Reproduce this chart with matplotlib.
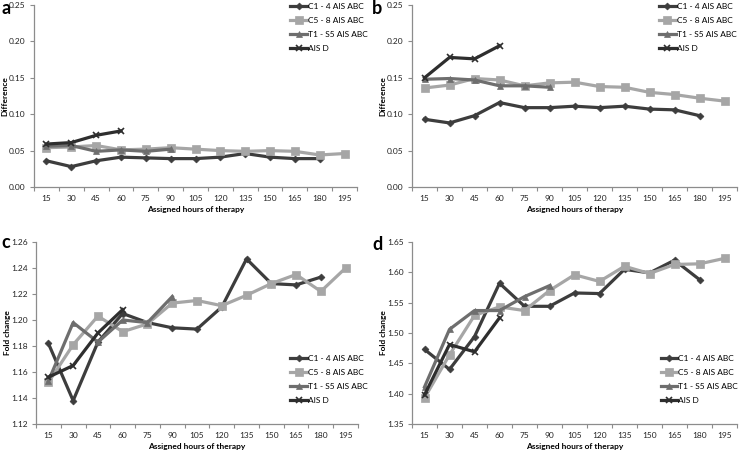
import matplotlib
matplotlib.use("Agg")
import matplotlib.pyplot as plt
import numpy as np

plt.rcParams['font.family'] = ['Lato', 'DejaVu Sans']

hours = ['15', '30', '45', '60', '75', '90', '105', '120', '135', '150', '165', '180', '195']
series_names = ['C1 - 4 AIS ABC', 'C5 - 8 AIS ABC', 'T1 - S5 AIS ABC', 'AIS D']

# Panel a: Difference
a_c1 = [0.036, 0.028, 0.036, 0.041, 0.040, 0.039, 0.039, 0.041, 0.046, 0.041, 0.039, 0.039]
a_c5 = [0.054, 0.055, 0.057, 0.051, 0.052, 0.054, 0.052, 0.050, 0.049, 0.050, 0.049, 0.044, 0.046]
a_t1 = [0.056, 0.057, 0.049, 0.051, 0.049, 0.052]
a_d = [0.059, 0.061, 0.071, 0.077]

# Panel b: Difference
b_c1 = [0.093, 0.088, 0.098, 0.116, 0.109, 0.109, 0.111, 0.109, 0.111, 0.107, 0.106, 0.098]
b_c5 = [0.136, 0.140, 0.149, 0.147, 0.139, 0.143, 0.144, 0.138, 0.137, 0.130, 0.127, 0.122, 0.118]
b_t1 = [0.148, 0.149, 0.147, 0.139, 0.139, 0.137]
b_d = [0.150, 0.178, 0.176, 0.194]

# Panel c: Fold change
c_c1 = [1.182, 1.138, 1.183, 1.205, 1.198, 1.194, 1.193, 1.210, 1.247, 1.228, 1.227, 1.233]
c_c5 = [1.152, 1.181, 1.203, 1.191, 1.197, 1.213, 1.215, 1.211, 1.219, 1.228, 1.235, 1.222, 1.240]
c_t1 = [1.153, 1.198, 1.183, 1.200, 1.198, 1.218]
c_d = [1.156, 1.165, 1.190, 1.208]

# Panel d: Fold change
d_c1 = [1.473, 1.440, 1.494, 1.582, 1.544, 1.544, 1.566, 1.565, 1.605, 1.599, 1.620, 1.588]
d_c5 = [1.393, 1.464, 1.529, 1.543, 1.537, 1.570, 1.596, 1.585, 1.610, 1.598, 1.613, 1.614, 1.623]
d_t1 = [1.411, 1.506, 1.537, 1.537, 1.560, 1.578]
d_d = [1.398, 1.481, 1.469, 1.525]

colors = ['#3d3d3d', '#a6a6a6', '#6e6e6e', '#2e2e2e']
markers = ['D', 's', '^', 'x']
msizes = [3.5, 5.5, 5, 5]

fig = plt.figure(figsize=(7.41, 4.53), dpi=100)

W, H = 741, 453
def rect(x0, x1, ytop, ybot):
    return [x0 / W, 1 - ybot / H, (x1 - x0) / W, (ybot - ytop) / H]

panels = [
    ('a', (1, 8), rect(34, 357, 5, 187), [a_c1, a_c5, a_t1, a_d], (0, 0.25), 0.05, 'Difference', (0.783, 1.03)),
    ('b', (372, 8), rect(412, 737, 5, 187), [b_c1, b_c5, b_t1, b_d], (0, 0.25), 0.05, 'Difference', (0.750, 1.03)),
    ('c', (1, 243), rect(36, 358, 242, 424), [c_c1, c_c5, c_t1, c_d], (1.12, 1.26), 0.02, 'Fold change', (0.780, 0.40)),
    ('d', (372, 245), rect(412, 737, 242, 424), [d_c1, d_c5, d_t1, d_d], (1.35, 1.65), 0.05, 'Fold change', (0.755, 0.40)),
]

axis_col = '#8c8c8c'
fs = 6
for letter, lpos, r, data, ylim, step, ylabel, legxy in panels:
    ax = fig.add_axes(r)
    handles = []
    for i, vals in enumerate(data):
        x = np.arange(len(vals))
        mew = 1.2 if markers[i] == 'x' else 0.5
        h, = ax.plot(x, vals, color=colors[i], lw=2.3, marker=markers[i], ms=msizes[i],
                     mew=mew, mec=colors[i], mfc=colors[i], label=series_names[i])
        handles.append(h)
    ax.set_xlim(-0.5, len(hours) - 0.5)
    ax.set_ylim(*ylim)
    yt = np.arange(ylim[0], ylim[1] + step / 2, step)
    ax.set_yticks(yt)
    ax.set_yticklabels(['%.2f' % v for v in yt])
    ax.set_xticks(np.arange(len(hours)))
    ax.set_xticklabels(hours)
    ax.set_xticks(np.arange(-0.5, len(hours)), minor=True)
    ax.tick_params(axis='x', which='major', length=0, labelsize=fs, pad=6, colors='#222222')
    ax.tick_params(axis='x', which='minor', length=3, width=0.8, color=axis_col, direction='out')
    ax.tick_params(axis='y', which='major', length=3, width=0.8, color=axis_col, labelsize=fs,
                   labelcolor='#222222', pad=3)
    for s in ['top', 'right']:
        ax.spines[s].set_visible(False)
    for s in ['left', 'bottom']:
        ax.spines[s].set_color(axis_col)
        ax.spines[s].set_linewidth(0.9)
    ax.set_xlabel('Assigned hours of therapy', fontsize=fs, fontweight='bold')
    ax.xaxis.set_label_coords(0.5, -0.105)
    ax.set_ylabel(ylabel, fontsize=fs, fontweight='bold')
    ax.yaxis.set_label_coords(-0.078, 0.5)
    ax.legend(handles=handles, loc='upper left', bbox_to_anchor=legxy,
              frameon=False, fontsize=fs, handlelength=2.0, handletextpad=0.1,
              labelspacing=0.85, borderaxespad=0, borderpad=0.4)
    fig.text(lpos[0] / W, 1 - lpos[1] / H, letter, fontsize=13, fontweight='bold',
             va='center', ha='left')

fig.savefig('out.png', dpi=100)
